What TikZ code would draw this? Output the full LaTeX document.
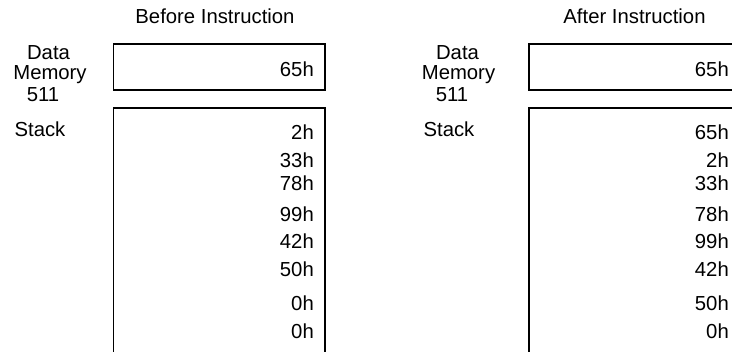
\documentclass[tikz,border=0pt]{standalone}
\usepackage{fontspec}
\setmainfont{Liberation Sans}
\begin{document}
\begin{tikzpicture}[x=1pt,y=-1pt,
  box/.style={draw, line width=1.8pt, minimum width=211.5pt, inner sep=0pt, outer sep=0pt},
  lbl/.style={font=\fontsize{20.3pt}{21pt}\selectfont, inner sep=0pt, anchor=base},
  val/.style={font=\fontsize{20.3pt}{21pt}\selectfont, inner sep=0pt, anchor=base east}]
\useasboundingbox (0,0) rectangle (732,352);
\clip (0,0) rectangle (732,352);
% Before
\node[lbl] (titleA) at (215,24) {Before Instruction};
\node[box, minimum height=46pt] (memA) at (219.25,67) {};
\node[box, minimum height=292pt] (stackA) at (219.25,254) {};
\node[lbl] (dataA) at (48.5,60) {Data};
\node[lbl] (memoryA) at (50,80) {Memory};
\node[lbl] (n511A) at (43,101.5) {511};
\node[lbl] (stackLA) at (40,137) {Stack};
\node[val] (vA0) at (314,77) {65h};
\node[val] (sA1) at (314,140) {2h};
\node[val] (sA2) at (314,168) {33h};
\node[val] (sA3) at (314,191) {78h};
\node[val] (sA4) at (314,222) {99h};
\node[val] (sA5) at (314,249) {42h};
\node[val] (sA6) at (314,277) {50h};
\node[val] (sA7) at (314,311) {0h};
\node[val] (sA8) at (314,339) {0h};
% After
\node[lbl] (titleB) at (634.5,24) {After Instruction};
\node[box, minimum height=46pt] (memB) at (634.75,67) {};
\node[box, minimum height=292pt] (stackB) at (634.75,254) {};
\node[lbl] (dataB) at (457.5,60) {Data};
\node[lbl] (memoryB) at (458.5,80) {Memory};
\node[lbl] (n511B) at (452,101.5) {511};
\node[lbl] (stackLB) at (449,137) {Stack};
\node[val] (vB0) at (729,77) {65h};
\node[val] (sB1) at (729,140) {65h};
\node[val] (sB2) at (729,168) {2h};
\node[val] (sB3) at (729,191) {33h};
\node[val] (sB4) at (729,222) {78h};
\node[val] (sB5) at (729,249) {99h};
\node[val] (sB6) at (729,277) {42h};
\node[val] (sB7) at (729,311) {50h};
\node[val] (sB8) at (729,339) {0h};
\end{tikzpicture}
\end{document}
